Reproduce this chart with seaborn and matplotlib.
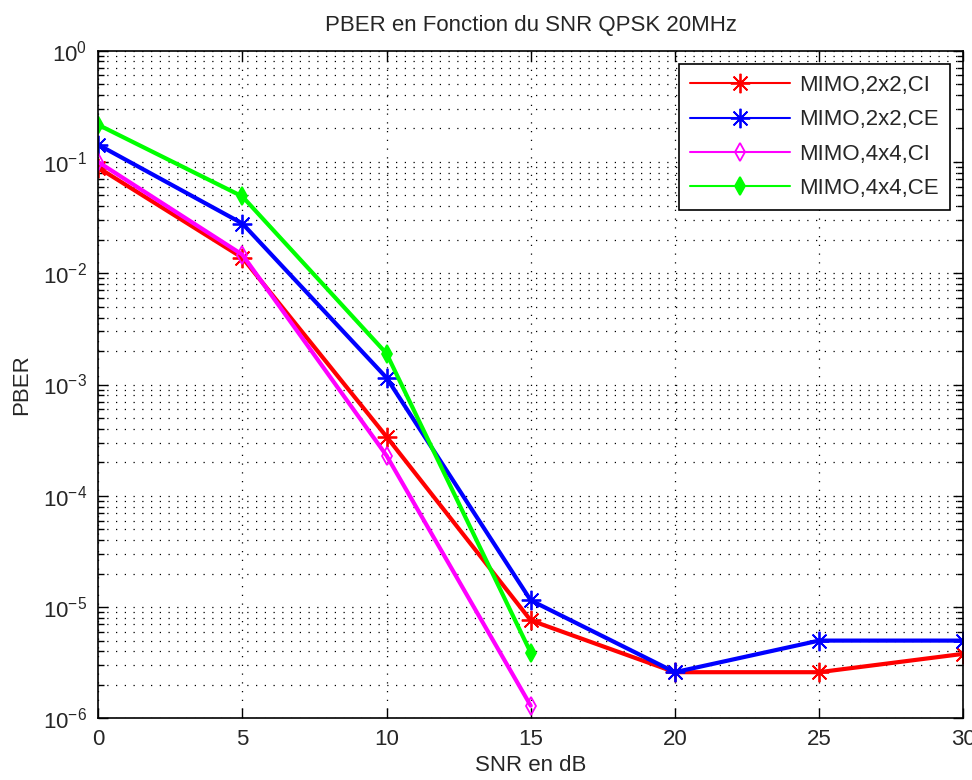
import numpy as np
import pandas as pd
import matplotlib
matplotlib.use("Agg")
import matplotlib.pyplot as plt
import seaborn as sns
from matplotlib.ticker import LogLocator, NullFormatter

snr = [0, 5, 10, 15, 20, 25, 30]
snr_4x4 = [0, 5, 10, 15]
mimo22_ci = [0.089, 0.0138, 3.4e-4, 7.6e-6, 2.6e-6, 2.6e-6, 3.8e-6]
mimo22_ce = [0.143, 0.028, 1.15e-3, 1.15e-5, 2.6e-6, 5.0e-6, 5.0e-6]
mimo44_ci = [0.100, 0.0147, 2.3e-4, 1.3e-6]
mimo44_ce = [0.216, 0.049, 1.9e-3, 3.9e-6]
labels = ["MIMO,2x2,CI", "MIMO,2x2,CE", "MIMO,4x4,CI", "MIMO,4x4,CE"]
title = "PBER en Fonction du SNR QPSK 20MHz"
xlabel = "SNR en dB"
ylabel = "PBER"

sns.set_theme(style="white")
plt.rcParams['font.family'] = ['Liberation Sans Narrow', 'Liberation Sans', 'DejaVu Sans']
plt.rcParams['mathtext.fontset'] = 'custom'
plt.rcParams['mathtext.rm'] = 'Liberation Sans'
plt.rcParams['mathtext.it'] = 'Liberation Sans'
plt.rcParams['axes.unicode_minus'] = False

fig = plt.figure(figsize=(9.72, 7.8), dpi=100)
ax = fig.add_axes([0.101, 0.079, 0.89, 0.856])

asterisk = (8, 2, 0)
series = [
    (snr, mimo22_ci, labels[0], "#ff0000", asterisk, "#ff0000", 14),
    (snr, mimo22_ce, labels[1], "#0000ff", asterisk, "#0000ff", 14),
    (snr_4x4, mimo44_ci, labels[2], "#ff00ff", "d", "none", 9),
    (snr_4x4, mimo44_ce, labels[3], "#00ff00", "d", "#00ff00", 9),
]
for xs, ys, lab, col, mk, mfc, ms in series:
    df = pd.DataFrame({"x": xs, "y": ys})
    sns.lineplot(data=df, x="x", y="y", ax=ax, color=col, linewidth=3,
                 marker=mk, markersize=ms, markerfacecolor=mfc,
                 markeredgecolor=col, markeredgewidth=1.3, label=lab)

ax.set_yscale("log")
ax.set_xlim(0, 30)
ax.set_ylim(1e-6, 1)
ax.set_xticks([0, 5, 10, 15, 20, 25, 30])
ax.yaxis.set_major_locator(LogLocator(base=10, numticks=10))
ax.yaxis.set_minor_locator(LogLocator(base=10, subs=np.arange(2, 10), numticks=20))
ax.yaxis.set_minor_formatter(NullFormatter())

dots = (0, (1, 6))
ax.grid(True, which="major", linestyle=dots, color="black", linewidth=0.9)
ax.grid(True, which="minor", axis="y", linestyle=dots, color="black", linewidth=0.9)
ax.tick_params(which="both", direction="in", top=True, right=True, bottom=True, left=True,
               labelsize=16, color="black")
ax.tick_params(which="major", length=7, width=1, pad=8)
ax.tick_params(which="minor", length=4, width=1)
for s in ax.spines.values():
    s.set_color("black")
    s.set_linewidth(1.2)

ax.set_title(title, fontsize=16, pad=14)
ax.set_xlabel(xlabel, fontsize=16, labelpad=3)
ax.set_ylabel(ylabel, fontsize=16, labelpad=8)

leg = ax.legend(loc="upper right", fontsize=16, handlelength=4.5, frameon=True,
                fancybox=False, edgecolor="black", framealpha=1,
                borderaxespad=0.6, labelspacing=0.6, handletextpad=0.4,
                borderpad=0.5)
leg.get_frame().set_linewidth(1.2)
for h in leg.legend_handles:
    h.set_linewidth(1.5)

fig.savefig("out.png", dpi=100)
